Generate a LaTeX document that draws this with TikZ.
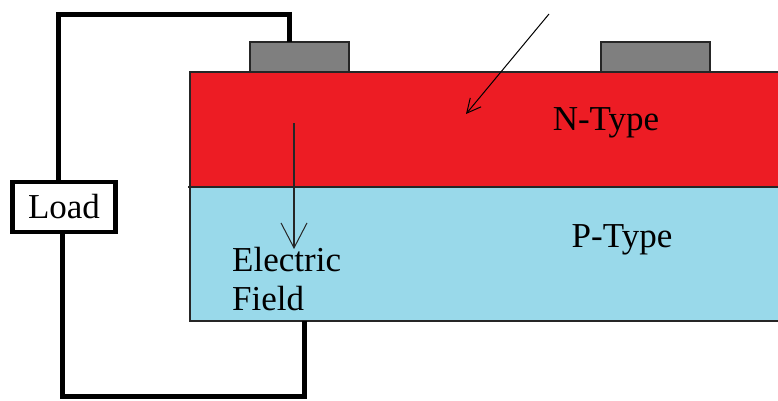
\documentclass[tikz,border=0pt]{standalone}
\usepackage{fontspec}
\setmainfont{Liberation Serif}
\usetikzlibrary{arrows.meta, positioning}
\definecolor{ntype}{HTML}{ED1C24}
\definecolor{ptype}{HTML}{99D9EA}
\definecolor{contact}{HTML}{7F7F7F}
\tikzset{
  layer/.style   = {draw=black!85, line width=1.2pt},
  pad/.style     = {draw=black!85, fill=contact, line width=1.2pt},
  wire/.style    = {line width=5pt, black},
  loadbox/.style = {draw, line width=4.5pt, inner sep=0pt, minimum width=103pt, minimum height=50pt},
  fieldarrow/.style = {-{Straight Barb[length=25pt, width=26pt, line width=1pt]}, line width=1.3pt, black!85},
  lightarrow/.style = {-{Straight Barb[length=14pt, width=14pt, line width=1pt]}, line width=1pt, black},
  lbl/.style     = {font=\fontsize{35}{39}\selectfont, inner sep=0pt},
}
\begin{document}
\begin{tikzpicture}[x=1pt, y=-1pt]
  \useasboundingbox (0,0) rectangle (778,401);
  % semiconductor layers
  \fill[ntype] (190,72) rectangle (778,187);
  \fill[ptype] (190,187) rectangle (778,321);
  \draw[layer] (778,72) -- (190,72) -- (190,321) -- (778,321);
  \draw[layer] (188,187) -- (778,187);
  % metal contacts
  \draw[pad] (250,72) rectangle (349,42);
  \draw[pad] (601,72) rectangle (710,42);
  \coordinate (padtop) at (289,42);
  \coordinate (pbottom) at (304,321);
  % external circuit
  \node[loadbox, lbl] (load) at (64,207) {Load};
  \draw[wire] (load.north -| 58,0) -- (58,15) -- (291.5,15);
  \draw[wire] (289,12) -- (padtop);
  \draw[wire] (load.south -| 62,0) -- (62,396) -- (304,396) -- (pbottom);
  % labels
  \node[lbl, anchor=base] (ntxt) at (606,130) {N-Type};
  \node[lbl, anchor=base] (ptxt) at (622,247) {P-Type};
  \node[lbl, anchor=base west, align=left] (efield) at (232,310) {Electric\\Field};
  % arrows
  \coordinate (ftop) at (294,123);
  \coordinate (fend) at (294,249);
  \draw[fieldarrow] (ftop) -- (fend);
  \coordinate (lstart) at (549,14);
  \coordinate (lend) at (466,114);
  \draw[lightarrow] (lstart) -- (lend);
\end{tikzpicture}
\end{document}
